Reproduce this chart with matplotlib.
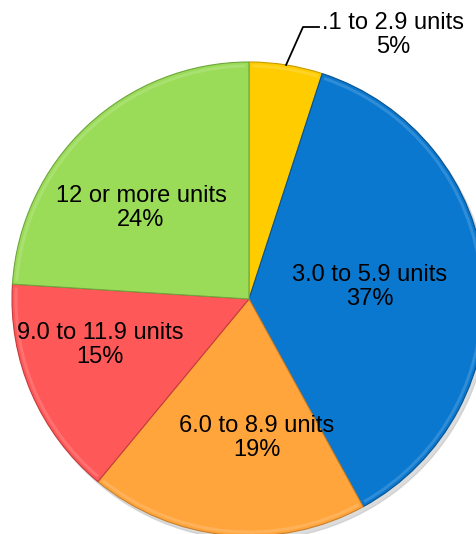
import numpy as np
import matplotlib.pyplot as plt
from matplotlib.patches import Wedge

categories = [".1 to 2.9 units", "3.0 to 5.9 units", "6.0 to 8.9 units",
              "9.0 to 11.9 units", "12 or more units"]
shares = [5, 37, 19, 15, 24]
colors = ["#FFCC00", "#0B78D0", "#FFA53C", "#FF5858", "#9ADC58"]
edges = ["#C89A00", "#05528E", "#C97F2A", "#C53A3A", "#6FA53C"]
# inside label placement: (fraction of radius, angle shift from wedge middle)
label_pos = [None, (0.513, 0.3), (0.587, 8.7), (0.658, -6.2), (0.596, 6.7)]

plt.rcParams['font.family'] = ['Liberation Sans', 'DejaVu Sans']

W, H = 476, 534
fig = plt.figure(figsize=(W / 100, H / 100), dpi=100)
ax = fig.add_axes([0, 0, 1, 1])

cx, cy, R = 249, H - 299, 237

# soft shadow
ax.add_patch(plt.Circle((cx + 3, cy - 4), R, color="#BBBBBB", alpha=0.5, zorder=0))

wedges, _ = ax.pie(shares, colors=colors, startangle=90, counterclock=False,
                   center=(cx, cy), radius=R, frame=True,
                   wedgeprops=dict(linewidth=0.8))
for w, ec in zip(wedges, edges):
    w.set_edgecolor(ec)
    w.set_zorder(1)
    # light bevel rim just inside the outer edge
    ax.add_patch(Wedge((cx, cy), R - 2.5, w.theta1 + 0.8, w.theta2 - 0.8, width=3,
                       facecolor="white", alpha=0.15, lw=0, zorder=2))

for i, w in enumerate(wedges):
    if label_pos[i] is None:
        continue
    fr, shift = label_pos[i]
    mid = np.deg2rad((w.theta1 + w.theta2) / 2 + shift)
    tx = cx + fr * R * np.cos(mid)
    ty = cy + fr * R * np.sin(mid)
    ax.text(tx, ty, f"{categories[i]}\n{shares[i]}%", ha="center", va="center",
            fontsize=17, color="black", linespacing=1.15, zorder=3)

# leader label for the small slice
w = wedges[0]
mid = np.deg2rad((w.theta1 + w.theta2) / 2)
px, py = cx + R * np.cos(mid), cy + R * np.sin(mid)
ax.plot([px, 303, 319], [py, H - 27, H - 27], color="black", lw=1.3, zorder=3)
ax.text(393, H - 35, f"{categories[0]}\n{shares[0]}%", ha="center", va="center",
        fontsize=17, color="black", linespacing=1.15, zorder=3)

ax.set_xlim(0, W)
ax.set_ylim(0, H)
ax.set_aspect("equal")
ax.axis("off")

fig.savefig("out.png", dpi=100)
